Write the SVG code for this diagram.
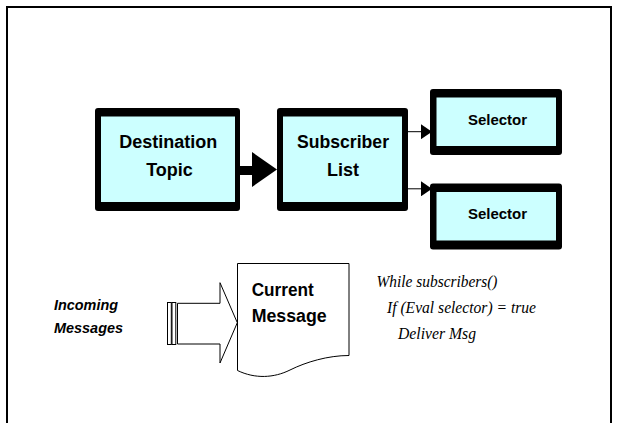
<svg xmlns="http://www.w3.org/2000/svg" width="618" height="423" viewBox="0 0 618 423">
<defs>
<style>
.frame{fill:none;stroke:#000;stroke-width:2}
.outer{fill:#000}
.inner{fill:#ccffff}
.bold{font-family:"Liberation Sans",Arial,sans-serif;font-weight:bold;fill:#000}
.lbl{font-size:18px;text-anchor:middle}
.sel{font-size:15px;text-anchor:middle}
.bi{font-family:"Liberation Sans",Arial,sans-serif;font-weight:bold;font-style:italic;font-size:15px;fill:#000}
.code{font-family:"Liberation Serif","Times New Roman",serif;font-style:italic;font-size:17px;fill:#000}
.thin{fill:#fff;stroke:#000;stroke-width:1}
.conn{stroke:#000;stroke-width:1;fill:none}
</style>
<marker id="ah" markerWidth="11" markerHeight="15" refX="11" refY="7.5" orient="auto" markerUnits="userSpaceOnUse">
<path d="M0,0 L11,7.5 L0,15 Z" fill="#000"/>
</marker>
</defs>
<rect width="618" height="423" fill="#fff"/>
<rect class="frame" x="7" y="7" width="604" height="430"/>

<g id="destination-topic">
<rect class="outer" x="95" y="108" width="145" height="103" rx="3"/>
<rect class="inner" x="101" y="116.5" width="134" height="85.5"/>
<text class="bold lbl" x="168.3" y="147.5" textLength="98" lengthAdjust="spacingAndGlyphs">Destination</text>
<text class="bold lbl" x="169.5" y="175.5">Topic</text>
</g>

<g id="subscriber-list">
<rect class="outer" x="277" y="108" width="131" height="103" rx="3"/>
<rect class="inner" x="283" y="116.5" width="119" height="85.5"/>
<text class="bold lbl" x="343" y="147.5" textLength="92" lengthAdjust="spacingAndGlyphs">Subscriber</text>
<text class="bold lbl" x="343" y="175.5">List</text>
</g>

<g id="selector-1">
<rect class="outer" x="430" y="89" width="132" height="66" rx="3"/>
<rect class="inner" x="436.5" y="97.5" width="119.5" height="48.5"/>
<text class="bold sel" x="497.5" y="124.5">Selector</text>
</g>

<g id="selector-2">
<rect class="outer" x="430" y="183.5" width="132" height="66" rx="3"/>
<rect class="inner" x="436.5" y="192" width="119.5" height="48.5"/>
<text class="bold sel" x="497.5" y="219">Selector</text>
</g>

<g id="connectors">
<path d="M240,166 H252 V152 L277,169.5 L252,187 V175 H240 Z" fill="#000"/>
<line class="conn" x1="408" y1="131.7" x2="432" y2="131.7" marker-end="url(#ah)"/>
<line class="conn" x1="408" y1="188.8" x2="432" y2="188.8" marker-end="url(#ah)"/>
</g>

<g id="incoming-messages">
<text class="bi" x="54" y="310" textLength="64" lengthAdjust="spacingAndGlyphs">Incoming</text>
<text class="bi" x="54" y="332.5" textLength="69" lengthAdjust="spacingAndGlyphs">Messages</text>
</g>

<g id="incoming-arrow">
<rect class="thin" x="167.5" y="302.5" width="3.8" height="42"/>
<rect class="thin" x="172" y="302.5" width="3.8" height="42"/>
<path class="thin" d="M177.5,303.3 H220 V282.7 L237.3,322.7 L220,363 V344 H177.5 Z"/>
</g>

<g id="current-message">
<path class="thin" d="M237.5,263.5 H349 V355.5 C328,355.5 306,362 290,370 C274,378 255,379 237.5,370.5 Z"/>
<text class="bold" x="251.7" y="295.5" font-size="18" textLength="62" lengthAdjust="spacingAndGlyphs">Current</text>
<text class="bold" x="251.7" y="322" font-size="18" textLength="75" lengthAdjust="spacingAndGlyphs">Message</text>
</g>

<g id="pseudocode">
<text class="code" x="376.5" y="287" textLength="121" lengthAdjust="spacingAndGlyphs">While subscribers()</text>
<text class="code" x="387" y="312.5" textLength="149" lengthAdjust="spacingAndGlyphs">If (Eval selector) = true</text>
<text class="code" x="398" y="338.5" textLength="78" lengthAdjust="spacingAndGlyphs">Deliver Msg</text>
</g>
</svg>
